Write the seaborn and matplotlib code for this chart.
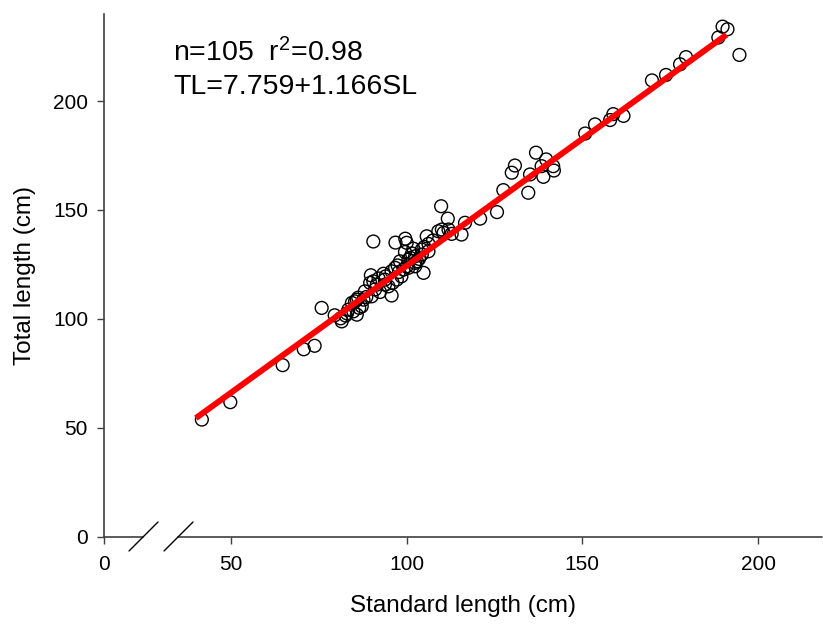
import numpy as np
import pandas as pd
import seaborn as sns
import matplotlib.pyplot as plt
from matplotlib.lines import Line2D

sns.set_theme(style="ticks")
plt.rcParams['font.family'] = ['Liberation Sans', 'DejaVu Sans']
plt.rcParams['mathtext.default'] = 'regular'
plt.rcParams['text.color'] = 'black'
plt.rcParams['axes.labelcolor'] = 'black'

# ---- data ----
standard_length = [
    41.7, 49.8, 64.7, 70.7, 73.8, 75.8,
    79.5, 81.2, 81.5, 82.6, 83.4, 84.4, 84.8, 85.3, 85.8, 85.8, 86.2, 87.2, 87.7, 88.1,
    90.0, 89.6, 89.8, 90.5, 90.5, 91.5, 92.4, 93.4, 93.8, 93.8, 94.8, 95.7, 95.7, 96.7,
    97.2, 96.8, 97.4, 97.8, 98.1, 99.1, 99.5, 99.6, 100.0, 100.0, 100.5, 100.5, 101.0,
    101.9, 102.4, 102.4, 102.9, 102.4, 104.3, 104.3, 104.8, 105.7, 106.2, 106.2, 109.0,
    109.8, 110.0, 111.9, 111.7, 112.8, 115.6, 116.6, 120.9, 125.7, 127.5, 129.9, 130.8,
    134.6, 135.1, 136.8, 138.4, 138.9, 139.7, 141.7, 141.9, 150.8, 153.6, 157.9, 158.8,
    161.7, 169.8, 173.8, 177.8, 179.5, 188.7, 189.9, 191.3, 194.7,
    83.0, 86.5, 88.5, 91.0, 92.0, 94.0, 96.0, 98.5, 101.5, 103.5, 105.0, 107.5, 110.5,
]
total_length = [
    53.7, 61.7, 78.7, 86.0, 87.6, 105.0,
    101.6, 100.2, 98.8, 101.5, 104.2, 107.3, 103.4, 108.0, 101.9, 108.8, 109.7, 105.7, 108.8, 112.6,
    110.3, 116.5, 120.0, 117.2, 135.5, 115.7, 112.3, 120.7, 118.0, 115.7, 114.9, 110.7, 121.8, 123.4,
    118.0, 135.0, 124.5, 121.5, 126.4, 122.6, 130.7, 136.8, 134.9, 124.1, 127.2, 123.4, 128.0,
    132.2, 128.7, 125.7, 126.4, 124.1, 129.5, 131.8, 121.1, 137.9, 134.4, 131.0, 140.2,
    151.7, 141.0, 141.0, 146.0, 139.0, 138.7, 144.1, 146.0, 149.0, 159.1, 167.1, 170.4,
    157.9, 166.3, 176.3, 170.1, 165.2, 173.2, 170.1, 168.1, 185.1, 189.3, 191.3, 194.0,
    193.2, 209.5, 212.0, 216.9, 220.2, 229.2, 234.2, 233.0, 221.2,
    102.5, 105.0, 110.0, 113.5, 118.5, 119.5, 116.5, 119.5, 130.0, 127.5, 133.0, 136.0, 139.5,
]
fit_intercept = 7.759
fit_slope = 1.166
fit_range = [40.0, 191.0]          # SL extent of the drawn regression line
x_ticks = [0, 50, 100, 150, 200]
y_ticks = [0, 50, 100, 150, 200]
annot_line1 = "n=105  r$^2$=0.98"
annot_line2 = "TL=7.759+1.166SL"
x_label = "Standard length (cm)"
y_label = "Total length (cm)"

df = pd.DataFrame({"SL": standard_length, "TL": total_length})
fit_df = pd.DataFrame({"SL": fit_range})
fit_df["TL"] = fit_intercept + fit_slope * fit_df["SL"]

# ---- figure ----
W, H = 823, 628
fig = plt.figure(figsize=(W / 100, H / 100), dpi=100)
ax_l, ax_r, ax_b, ax_t = 104, 822, 536.5, 14
ax = fig.add_axes([ax_l / W, (H - ax_b) / H, (ax_r - ax_l) / W, (ax_b - ax_t) / H])

sns.scatterplot(data=df, x="SL", y="TL", ax=ax, s=85, marker="o",
                facecolor="none", edgecolor="black", linewidth=1.0, zorder=3)
sns.lineplot(data=fit_df, x="SL", y="TL", ax=ax, color="#ff0000", lw=4.3,
             zorder=4, solid_capstyle="butt")

# broken x axis: the segment left of the break starts at 0
x_left = 13.85
x_right = 218.2
ax.set_xlim(x_left, x_right)
ax.set_ylim(0, 240)
tick_pos = [x_left if v == 0 else v for v in x_ticks]
ax.set_xticks(tick_pos)
ax.set_xticklabels([str(v) for v in x_ticks])
ax.set_yticks(y_ticks)
ax.set_yticklabels([str(v) for v in y_ticks])

ax.tick_params(axis="both", direction="out", length=5, width=1, color="#404040",
               labelsize=15, labelcolor="black")
ax.tick_params(axis="x", pad=8)
ax.tick_params(axis="y", pad=6.5)

sns.despine(ax=ax)
ax.spines["left"].set_color("#404040")
ax.spines["left"].set_linewidth(1.2)
ax.spines["bottom"].set_visible(False)

# bottom spine drawn in two pieces with a gap for the break
aw = ax_r - ax_l
ah = ax_b - ax_t
gap0 = (143 - ax_l) / aw
gap1 = (178 - ax_l) / aw
for x0, x1 in [(0, gap0), (gap1, 1)]:
    ax.add_line(Line2D([x0, x1], [0, 0], transform=ax.transAxes, color="#404040",
                       lw=1.2, clip_on=False, zorder=5))
dy = 14.5 / ah
for px0, px1 in [(129, 158), (164, 193)]:
    ax.add_line(Line2D([(px0 - ax_l) / aw, (px1 - ax_l) / aw], [-dy, dy],
                       transform=ax.transAxes, color="black", lw=1.0,
                       clip_on=False, zorder=5))

ax.set_xlabel(x_label, fontsize=17.5)
ax.set_ylabel(y_label, fontsize=17.5)
ax.xaxis.set_label_coords(0.5, -(595 - ax_b) / ah)
ax.yaxis.set_label_coords(-(104 - 36) / aw, 0.5)

fig.text(173 / W, 1 - 61 / H, annot_line1, fontsize=20.5, va="baseline", ha="left")
fig.text(173 / W, 1 - 94 / H, annot_line2, fontsize=20.5, va="baseline", ha="left")

fig.savefig("out.png", dpi=100)
